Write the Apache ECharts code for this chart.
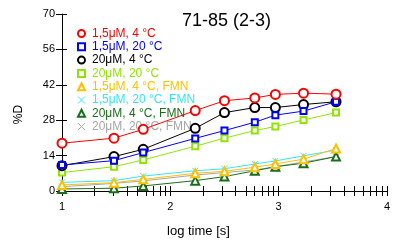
<!DOCTYPE html>
<html>
<head>
<meta charset="utf-8">
<script src="https://cdn.jsdelivr.net/npm/echarts@6/dist/echarts.min.js"></script>
<style>
  html, body { margin: 0; padding: 0; background: #fff; }
  #chart { width: 393px; height: 244px; }
</style>
</head>
<body>
<div id="chart"></div>
<script>
  // log time positions of the measurements
  const logTime = [1, 1.48, 1.75, 2.23, 2.50, 2.78, 2.97, 3.23, 3.53]

  const red = [18.9, 20.9, 24.4, 31.8, 35.7, 36.8, 38.2, 38.7, 38.3]
  const blue = [10.3, 12.0, 15.2, 20.8, 23.9, 27.2, 30.0, 31.6, 35.3]
  const black = [10.0, 13.6, 16.5, 24.8, 31.0, 33.0, 33.0, 34.2, 35.3]
  const lime = [7.3, 9.6, 12.3, 17.7, 20.9, 23.9, 25.5, 28.1, 31.0]
  const orange = [2.4, 3.3, 4.6, 7.0, 7.8, 9.4, 10.7, 12.6, 16.8]
  const cyan = [3.4, 4.1, 5.9, 8.0, 8.8, 10.7, 11.9, 13.9, 16.2]
  const dkgreen = [0.8, 1.1, 2.0, 4.1, 5.7, 8.0, 9.6, 11.0, 13.6]
  const gray = [1.7, 3.0, 4.0, 6.3, 7.3, 8.3, 9.6, 11.5, 13.6]

  const names = ['1,5μM, 4 °C', '1,5μM, 20 °C', '20μM, 4 °C', '20μM, 20 °C',
    '1,5μM, 4 °C, FMN', '1,5μM, 20 °C, FMN', '20μM, 4 °C, FMN', '20μM, 20 °C, FMN']
  const xMajor = [1, 2, 3, 4]
  const yTicks = [0, 14, 28, 42, 56, 70]

  const cross = 'path://M0,0L10,10M10,0L0,10'
  const styles = [
    { data: red, color: '#ff0000', symbol: 'emptyCircle', size: 9 },
    { data: blue, color: '#0000ff', symbol: 'emptyRect', size: 6 },
    { data: black, color: '#000000', symbol: 'emptyCircle', size: 9 },
    { data: lime, color: '#8ee600', symbol: 'emptyRect', size: 6 },
    { data: orange, color: '#ffc000', symbol: 'emptyTriangle', size: 8 },
    { data: cyan, color: '#33e6ff', symbol: cross, size: 6 },
    { data: dkgreen, color: '#1a6e1a', symbol: 'emptyTriangle', size: 8 },
    { data: gray, color: '#a6a6a6', symbol: cross, size: 6 }
  ]

  // log-style minor ticks inside each decade
  const allTicks = []
  for (let d = 1; d < 4; d++) {
    for (let k = 1; k < 10; k++) allTicks.push(d + Math.log10(k))
  }
  allTicks.push(4)

  const chart = echarts.init(document.getElementById('chart'))

  const series = styles.map((s, i) => ({
    name: names[i],
    type: 'line',
    data: logTime.map((t, j) => [t, s.data[j]]),
    symbol: s.symbol,
    symbolSize: s.size,
    showAllSymbol: true,
    z: 10 - i,
    itemStyle: { color: s.color, borderColor: s.color, borderWidth: 1 },
    lineStyle: { color: s.color, width: 1 },
    emphasis: { disabled: true },
    animation: false
  }))

  chart.setOption({
    animation: false,
    title: {
      text: '71-85 (2-3)',
      left: 177,
      top: 7,
      textStyle: { fontFamily: 'Liberation Sans', fontSize: 18, fontWeight: 'normal', color: '#000' }
    },
    legend: {
      orient: 'vertical',
      left: 72,
      top: 22,
      itemGap: 0.3,
      itemWidth: 7,
      itemHeight: 7,
      textStyle: { fontFamily: 'Liberation Sans', fontSize: 12, lineHeight: 13, padding: [0, 0, 0, 2] },
      data: styles.map((s, i) => ({
        name: names[i],
        icon: s.symbol,
        itemStyle: { color: s.color, borderColor: s.color, borderWidth: 1 },
        textStyle: { color: s.color }
      }))
    },
    grid: { left: 62, right: 4, top: 14, bottom: 53, containLabel: false },
    xAxis: [{
      type: 'value',
      min: 1, max: 4, interval: 1,
      name: 'log time [s]',
      nameLocation: 'middle',
      nameGap: 34,
      nameTextStyle: { fontFamily: 'Liberation Sans', fontSize: 13, color: '#000', padding: [0, 52, 0, 0] },
      axisLine: { lineStyle: { color: '#000', width: 1 } },
      axisTick: { show: true, length: 5, customValues: allTicks, lineStyle: { color: '#000' } },
      axisLabel: { customValues: xMajor, fontFamily: 'Liberation Sans', fontSize: 11, color: '#000', margin: 10 },
      splitLine: { show: false }
    }, {
      type: 'value',
      min: 1, max: 4, interval: 1,
      position: 'bottom',
      axisLine: { show: false },
      axisTick: { show: true, inside: true, length: 5, customValues: allTicks, lineStyle: { color: '#000' } },
      axisLabel: { show: false },
      splitLine: { show: false }
    }],
    yAxis: [{
      type: 'value',
      min: 0, max: 70, interval: 14,
      name: '%D',
      nameLocation: 'middle',
      nameGap: 37,
      nameTextStyle: { fontFamily: 'Liberation Sans', fontSize: 12, color: '#000', padding: [0, 0, 0, -24] },
      axisLine: { show: true, lineStyle: { color: '#000', width: 1 } },
      axisTick: { show: true, length: 6, customValues: yTicks, lineStyle: { color: '#000' } },
      axisLabel: { customValues: yTicks, fontFamily: 'Liberation Sans', fontSize: 11, color: '#000', margin: 7 },
      splitLine: { show: false }
    }, {
      type: 'value',
      min: 0, max: 70, interval: 14,
      position: 'left',
      axisLine: { show: false },
      axisTick: { show: true, inside: true, length: 5, lineStyle: { color: '#000' } },
      axisLabel: { show: false },
      splitLine: { show: false }
    }],
    series: series
  })
</script>
</body>
</html>
